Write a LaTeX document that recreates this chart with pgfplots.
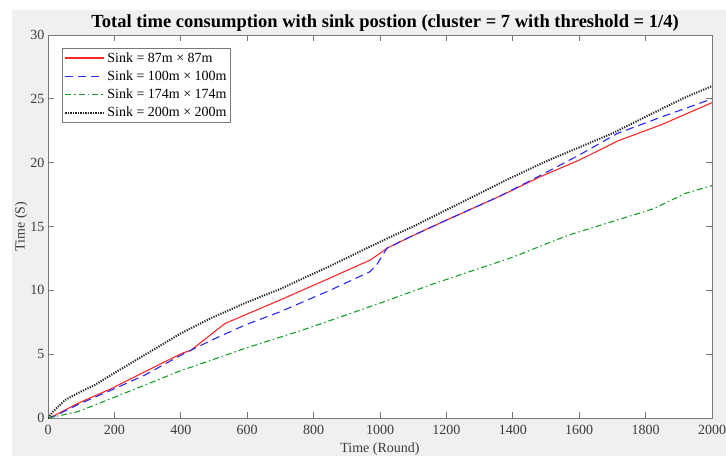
\documentclass[border=0pt]{standalone}
\usepackage{pgfplots}
\pgfplotsset{compat=1.18}
\usepackage{fontspec}
\setmainfont{Liberation Serif}
\definecolor{bg}{RGB}{240,240,240}
\definecolor{tk}{RGB}{60,60,60}
\definecolor{axc}{RGB}{120,120,120}
\definecolor{mred}{RGB}{255,40,40}
\definecolor{mblue}{RGB}{40,40,255}
\definecolor{mgreen}{RGB}{20,160,40}
\begin{document}
\begin{tikzpicture}[x=1pt,y=1pt]
\path[use as bounding box] (0,0) rectangle (726,456);
\fill[bg] (12,0) rectangle (726,446);
\begin{axis}[
  at={(48pt,38pt)}, anchor=south west,
  width=664pt, height=383pt, scale only axis,
  xmin=0, xmax=2000, ymin=0, ymax=30,
  xtick distance=200, ytick distance=5,
  tick align=inside, major tick length=6pt,
  axis background/.style={fill=white},
  axis line style={axc, line width=0.8pt},
  every tick/.style={axc, line width=0.8pt},
  tick label style={font=\fontsize{14}{16}\selectfont, text=tk},
  xticklabel style={yshift=-4pt},
  /pgf/number format/assume math mode=true,
  /pgf/number format/set thousands separator={},
  label style={font=\fontsize{14}{16}\selectfont, text=tk},
  xlabel={Time (Round)}, ylabel={Time (S)},
  xlabel style={at={(axis description cs:0.5,0)}, anchor=center, yshift=-31pt},
  ylabel style={yshift=-4pt},
  title={\textbf{Total time consumption with sink postion (cluster = 7 with threshold = 1/4)}},
  title style={font=\fontsize{18.5}{21}\selectfont, text=black, yshift=-6pt, xshift=5pt},
  legend style={at={(0.021,0.966)}, anchor=north west, draw=axc, line width=0.8pt,
    font=\fontsize{14}{16}\selectfont, text=black, inner xsep=2pt, inner ysep=2pt,
    row sep=3pt, fill=white},
  legend cell align=left,
  legend image code/.code={\draw[#1] (0pt,0pt) -- (39pt,0pt);},
]
\addplot[mred, line width=1.1pt] coordinates {
(0,0)(20,0.2)(90,1.15)(192,2.32)(292,3.63)(403,5.06)(430,5.3)(533,7.4)(593,8.07)(699,9.24)(849,10.96)(970,12.37)(1000,12.9)(1021,13.3)(1100,14.3)(1200,15.5)(1363,17.4)(1483,18.9)(1600,20.2)(1716,21.7)(1850,23.0)(2000,24.7)};
\addlegendentry{Sink = 87m × 87m}
\addplot[mblue, line width=1.1pt, dash pattern=on 8pt off 5pt] coordinates {
(0,0)(20,0.15)(90,1.05)(192,2.2)(292,3.37)(392,4.8)(422,5.2)(493,6.1)(593,7.28)(699,8.32)(849,10.0)(970,11.46)(990,12.0)(1021,13.3)(1100,14.3)(1200,15.5)(1363,17.4)(1483,19.0)(1600,20.6)(1716,22.3)(1850,23.6)(2000,25.0)};
\addlegendentry{Sink = 100m × 100m}
\addplot[mgreen, line width=1.1pt, dash pattern=on 6pt off 3pt on 1.5pt off 3pt] coordinates {
(0,0)(20,0.1)(90,0.5)(192,1.54)(292,2.58)(392,3.63)(493,4.54)(593,5.45)(768,6.9)(879,7.9)(1000,9.0)(1160,10.5)(1400,12.6)(1565,14.3)(1825,16.4)(1920,17.6)(2000,18.2)};
\addlegendentry{Sink = 174m × 174m}
\addplot[black!85, line width=2pt, dash pattern=on 1.2pt off 1.3pt] coordinates {
(0,0)(15,0.5)(51,1.4)(90,1.95)(142,2.6)(192,3.4)(292,4.95)(398,6.6)(493,7.85)(593,9.0)(699,10.1)(849,11.9)(1000,13.8)(1100,15.0)(1200,16.3)(1393,18.8)(1500,20.1)(1600,21.2)(1700,22.3)(1800,23.6)(1915,25.06)(2000,26.0)};
\addlegendentry{Sink = 200m × 200m}
\end{axis}
\end{tikzpicture}
\end{document}
